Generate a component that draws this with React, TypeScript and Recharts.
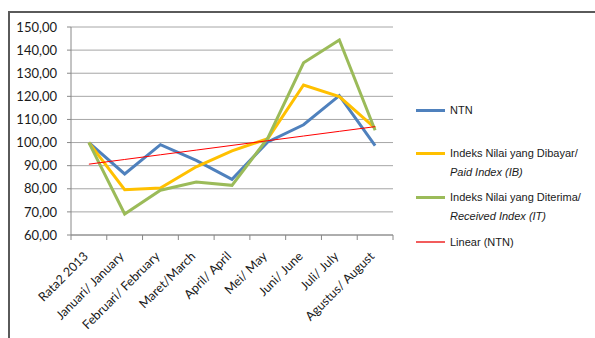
import { LineChart, Line, XAxis, YAxis, CartesianGrid } from "recharts";

const categories = [
  "Rata2 2013",
  "Januari/ January",
  "Februari/ February",
  "Maret/March",
  "April/ April",
  "Mei/ May",
  "Juni/ June",
  "Juli/ July",
  "Agustus/ August",
];
const ntn = [100, 86.4, 99.1, 92.3, 84.1, 100.3, 107.7, 120.3, 98.7];
const paidIndex = [100, 79.6, 80.3, 89.5, 96.4, 101.7, 124.9, 119.9, 106.2];
const receivedIndex = [100, 69.1, 79.4, 82.9, 81.5, 101.9, 134.5, 144.4, 105.3];
const yTicks = [60, 70, 80, 90, 100, 110, 120, 130, 140, 150];

// least-squares trend over NTN (Excel "Linear" trendline)
function linearFit(values: number[]) {
  const n = values.length;
  const xs = values.map((_, i) => i + 1);
  const mx = xs.reduce((a, b) => a + b, 0) / n;
  const my = values.reduce((a, b) => a + b, 0) / n;
  let sxy = 0;
  let sxx = 0;
  xs.forEach((x, i) => {
    sxy += (x - mx) * (values[i] - my);
    sxx += (x - mx) * (x - mx);
  });
  const slope = sxy / sxx;
  return xs.map((x) => my + slope * (x - mx));
}

const trend = linearFit(ntn);

const data = categories.map((name, i) => ({
  idx: i + 1,
  name,
  ntn: ntn[i],
  paid: paidIndex[i],
  received: receivedIndex[i],
  trend: trend[i],
}));

const PLOT_LEFT = 71;
const PLOT_RIGHT = 393;
const STEP = (PLOT_RIGHT - PLOT_LEFT) / categories.length;
const AXIS_FONT = "Lato, 'Open Sans', sans-serif";
const LEGEND_FONT = "'Liberation Sans', Arial, sans-serif";

function CategoryTick(props: any) {
  const { x, y, payload, index } = props;
  const label = categories[payload.value - 1];
  const left = x - STEP / 2;
  const ax = x;
  const ay = y + 22;
  return (
    <g>
      <line x1={left} y1={y} x2={left} y2={y + 5} stroke="#888" />
      {index === categories.length - 1 && (
        <line x1={x + STEP / 2} y1={y} x2={x + STEP / 2} y2={y + 5} stroke="#888" />
      )}
      <text
        x={ax}
        y={ay}
        textAnchor="end"
        fontSize={12.5}
        fontFamily={AXIS_FONT}
        fill="#1a1a1a"
        transform={`rotate(-45, ${ax}, ${ay})`}
      >
        {label}
      </text>
    </g>
  );
}

const legendItems = [
  { color: "#4F81BD", width: 3, lines: ["NTN"], top: 110 },
  { color: "#FFC000", width: 3, lines: ["Indeks Nilai yang Dibayar/", "Paid Index (IB)"], top: 153 },
  { color: "#9BBB59", width: 3, lines: ["Indeks Nilai yang Diterima/", "Received Index (IT)"], top: 197 },
  { color: "#F25C5C", width: 1.5, lines: ["Linear (NTN)"], top: 242 },
];

function ChartLegend() {
  return (
    <div style={{ position: "absolute", left: 416, top: 0, fontFamily: LEGEND_FONT, fontSize: 11, color: "#1a1a1a" }}>
      {legendItems.map((item) => (
        <div key={item.lines[0]} style={{ position: "absolute", left: 0, top: item.top }}>
          <div
            style={{
              position: "absolute",
              left: 0,
              top: -item.width / 2,
              width: 29,
              height: item.width,
              background: item.color,
            }}
          />
          {item.lines.map((t, i) => (
            <div
              key={t}
              style={{
                position: "absolute",
                left: 34,
                top: -7 + i * 19,
                whiteSpace: "nowrap",
                lineHeight: "14px",
                fontStyle: i === 1 ? "italic" : "normal",
              }}
            >
              {t}
            </div>
          ))}
        </div>
      ))}
    </div>
  );
}

export default function App() {
  return (
    <div style={{ position: "absolute", left: 0, top: 0, width: 595, height: 338, background: "#fff", overflow: "hidden" }}>
      <div
        style={{
          position: "absolute",
          left: 8,
          top: 11,
          width: 600,
          height: 340,
          borderTop: "2px solid #5a5a5a",
          borderLeft: "2px solid #5a5a5a",
        }}
      />
      <LineChart
        width={595}
        height={338}
        data={data}
        margin={{ top: 27, right: 595 - PLOT_RIGHT, bottom: 0, left: 0 }}
        style={{ position: "absolute", left: 0, top: 0 }}
      >
        <CartesianGrid vertical={false} stroke="#a6a6a6" />
        <XAxis
          dataKey="idx"
          type="number"
          domain={[0.5, 9.5]}
          ticks={[1, 2, 3, 4, 5, 6, 7, 8, 9]}
          interval={0}
          height={103}
          tickLine={false}
          tickSize={0}
          tickMargin={0}
          stroke="#888"
          tick={(p: any) => <CategoryTick {...p} />}
        />
        <YAxis
          domain={[60, 150]}
          ticks={yTicks}
          interval={0}
          width={PLOT_LEFT}
          stroke="#888"
          tickSize={4}
          tickMargin={10}
          tick={{ fontSize: 13, fontFamily: AXIS_FONT, fill: "#1a1a1a" }}
          tickFormatter={(v: number) => v.toFixed(2).replace(".", ",")}
        />
        <Line dataKey="ntn" stroke="#4F81BD" strokeWidth={3} dot={false} isAnimationActive={false} />
        <Line dataKey="paid" stroke="#FFC000" strokeWidth={3} dot={false} isAnimationActive={false} />
        <Line dataKey="received" stroke="#9BBB59" strokeWidth={3} dot={false} isAnimationActive={false} />
        <Line dataKey="trend" stroke="#FF0000" strokeWidth={1} dot={false} isAnimationActive={false} />
      </LineChart>
      <ChartLegend />
    </div>
  );
}
